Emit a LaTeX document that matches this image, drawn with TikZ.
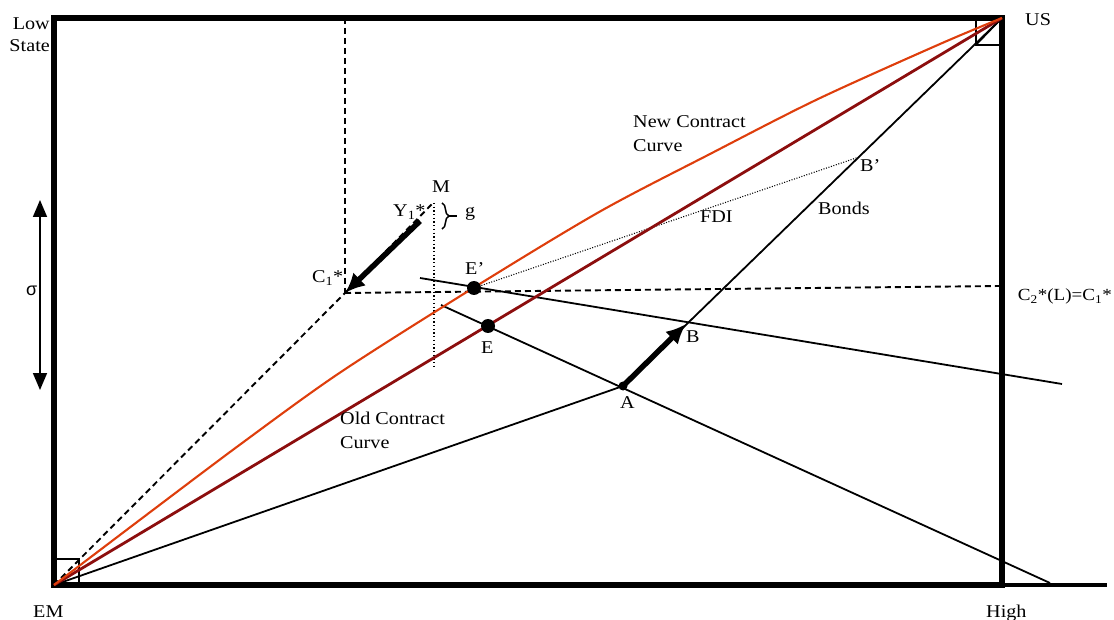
\documentclass[tikz,border=0pt]{standalone}
\usepackage{fontspec}
\setmainfont{Liberation Serif}[FakeStretch=1.12]
\newfontfamily\sigfont{Liberation Sans}
\usetikzlibrary{arrows.meta,decorations.pathreplacing}
\definecolor{newc}{RGB}{222,62,12}
\definecolor{oldc}{RGB}{140,14,14}
\begin{document}
\begin{tikzpicture}[x=1pt,y=-1pt,
  font=\fontsize{18}{21}\selectfont,
  lbl/.style={inner sep=0pt,anchor=base west},
  thinln/.style={line width=1.8pt,black},
  dashln/.style={line width=1.9pt,dash pattern=on 6pt off 4pt},
  dotln/.style={line width=1.1pt,dash pattern=on 1pt off 1.6pt},
  bigarrow/.style={line width=5.5pt,-{Latex[length=20pt,width=18pt]}},
  dot/.style={circle,fill=black,inner sep=0pt,minimum size=#1}]
\useasboundingbox (0,0) rectangle (1114,620);

% key points
\coordinate (EM) at (54,585);
\coordinate (US) at (1002,18);
\coordinate (TL) at (54,18);
\coordinate (BR) at (1002,585);
\coordinate (Xend) at (1107,585);
\coordinate (C1) at (345,293);
\coordinate (Mtop) at (432,204);
\coordinate (Vtop) at (345,18);
\coordinate (Hend) at (1000,286);
\coordinate (Ep) at (474,288);
\coordinate (E) at (488,326);
\coordinate (A) at (623,386);
\coordinate (B) at (686,324);
\coordinate (Bp) at (859,157);
\coordinate (L1s) at (420,278);
\coordinate (L1e) at (1062,384);
\coordinate (L2s) at (441,305);
\coordinate (L2e) at (1050,583);
\coordinate (Ys) at (420,221);
\coordinate (Dt) at (434,203);
\coordinate (Db) at (434,368);
\coordinate (Su) at (40,200);
\coordinate (Sd) at (40,390);

% frame
\draw[line width=5.5pt] (TL) rectangle (BR);
\draw[line width=4.5pt] (EM) -- (Xend);
\draw[line width=1.5pt] (54,559) -| (79,585);
\draw[line width=1.5pt] (976,18) |- (1002,45);

% dashed construction lines
\draw[dashln] (EM) -- (C1) -- (Mtop);
\draw[dashln] (Vtop) -- (C1);
\draw[dashln] (C1) -- (Hend);
\draw[dotln,dash pattern=on 1.3pt off 2.4pt] (Dt) -- (Db);

% black lines
\draw[thinln] (EM) -- (A);
\draw[thinln] (A) -- (US);
\draw[thinln] (L1s) -- (L1e);
\draw[thinln] (L2s) -- (L2e);
\draw[thinln,line width=1.5pt] (US) -- (976,45);
\draw[dotln] (Ep) -- (Bp);

% contract curves
\draw[oldc,line width=2.8pt] (EM) -- (US);
\draw[newc,line width=2.1pt] plot[smooth,tension=0.5] coordinates {(54,585) (147,514.5) (240,444.6) (340,372.6) (474,287.5) (600,211.5) (710,154) (817,99.5) (940,44) (1002,18)};

% dots
\node[dot=14pt] (nEp) at (Ep) {};
\node[dot=14pt] (nE) at (E) {};
\node[dot=9pt] (nA) at (A) {};

% arrows
\draw[bigarrow] (Ys) -- (C1);
\draw[bigarrow] (A) -- (B);
\draw[line width=1.6pt,{Triangle[length=17pt,width=14pt]}-{Triangle[length=17pt,width=14pt]}] (Su) -- (Sd);

% brace g
\draw[line width=1.5pt,decorate,decoration={brace,amplitude=7pt}] (442,203) -- (442,229);
\draw[line width=2.5pt] (449,216) -- (457,216);

% labels
\node[lbl,anchor=base east] (low) at (50,30) {Low};
\node[lbl,anchor=base east] (state) at (50,52) {State};
\node[lbl] (us) at (1025,26) {US};
\node[lbl] (em) at (33,617) {EM};
\node[lbl] (high) at (986,617) {High};
\node[lbl] (mlab) at (432,193) {M};
\node[lbl] (ylab) at (393,217) {Y\textsubscript{1}*};
\node[lbl] (glab) at (465,217) {g};
\node[lbl] (clab) at (312,283) {C\textsubscript{1}*};
\node[lbl] (eplab) at (465,275) {E’};
\node[lbl] (elab) at (481,353) {E};
\node[lbl] (alab) at (620,408) {A};
\node[lbl] (blab) at (686,343) {B};
\node[lbl] (bplab) at (860,172) {B’};
\node[lbl] (fdi) at (700,223) {FDI};
\node[lbl] (bonds) at (818,215) {Bonds};
\node[lbl] (new1) at (633,128) {New Contract};
\node[lbl] (new2) at (633,152) {Curve};
\node[lbl] (old1) at (340,424) {Old Contract};
\node[lbl] (old2) at (340,448) {Curve};
\node[lbl,anchor=base east,font=\fontsize{17}{20}\selectfont] (c2) at (1112,301) {C\textsubscript{2}*(L)=C\textsubscript{1}*};
\node[lbl,font=\sigfont\fontsize{18}{21}\selectfont] (sig) at (26,296) {σ};
\end{tikzpicture}
\end{document}
